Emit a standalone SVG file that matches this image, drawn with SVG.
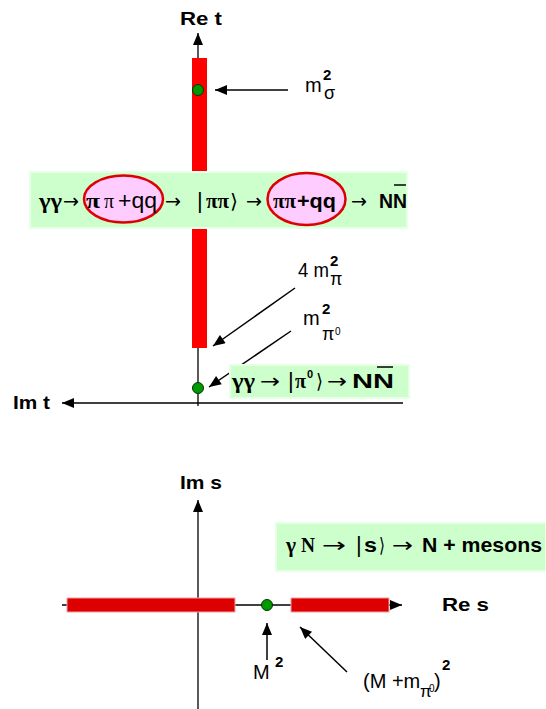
<svg xmlns="http://www.w3.org/2000/svg" width="546" height="709" viewBox="0 0 546 709">
<defs>
<marker id="ahb" viewBox="0 0 12 10" refX="12" refY="5" markerWidth="13" markerHeight="10" markerUnits="userSpaceOnUse" orient="auto"><path d="M0,0 L12,5 L0,10 z" fill="#000"/></marker>
</defs>
<style>
.ax{stroke:#000;stroke-width:1.3;fill:none}
.ar{stroke:#000;stroke-width:1.5;fill:none}
.lb{font-family:"Liberation Sans",Arial,sans-serif;font-weight:bold;font-size:19px;fill:#000}
.t{font-family:"Liberation Sans",Arial,sans-serif;font-size:20px;fill:#000}
.sup{font-family:"Liberation Sans",Arial,sans-serif;font-weight:bold;font-size:15px;fill:#000}
.sub{font-family:"Liberation Sans",Arial,sans-serif;font-weight:normal;font-size:18px;fill:#000}
.z{font-family:"Liberation Sans",Arial,sans-serif;font-weight:normal;font-size:10px;fill:#000}
.gs{font-family:"Liberation Serif","Times New Roman",serif;font-weight:bold;font-size:22px;fill:#000}
.gr{font-family:"Liberation Serif","Times New Roman",serif;font-size:20px;fill:#000}
.ss{font-family:"Liberation Sans",Arial,sans-serif;font-size:22px;fill:#000}
.sb{font-family:"Liberation Sans",Arial,sans-serif;font-weight:bold;font-size:21px;fill:#000}
.arw{font-family:"DejaVu Sans",sans-serif;font-size:20px;fill:#000}
.box{fill:#ccffcc;stroke:#e6ffe6;stroke-width:2}
.dot{fill:#009900;stroke:#003300;stroke-width:1}
.ell{fill:#ffccff;stroke:#dd0000;stroke-width:2.5}
.bar{stroke:#000;stroke-width:1.5}
</style>
<g id="connectors">
<line class="ax" x1="198" y1="406" x2="198" y2="33" marker-end="url(#ahb)"/>
<line class="ax" x1="403" y1="403" x2="62" y2="403" marker-end="url(#ahb)"/>
<line class="ar" x1="288" y1="90" x2="215" y2="90" marker-end="url(#ahb)"/>
<line class="ar" x1="295" y1="288" x2="213" y2="346" marker-end="url(#ahb)"/>
<line class="ar" x1="291" y1="331" x2="209" y2="387" marker-end="url(#ahb)"/>
<line class="ax" x1="198" y1="709" x2="198" y2="500" marker-end="url(#ahb)"/>
<line class="ax" x1="62" y1="605" x2="402" y2="605" marker-end="url(#ahb)"/>
<line class="ar" x1="267" y1="660" x2="267" y2="623" marker-end="url(#ahb)"/>
<line class="ar" x1="347" y1="672" x2="300" y2="627" marker-end="url(#ahb)"/>
</g>
<g id="cut-t"><rect x="192" y="58" width="15" height="290" fill="#ff0000"/></g>
<g id="cut-s-left"><rect x="67" y="598" width="168" height="14" fill="#dd0000" stroke="#f4a0a0" stroke-width="1"/></g>
<g id="cut-s-right"><rect x="291" y="598" width="98" height="14" fill="#dd0000" stroke="#f4a0a0" stroke-width="1"/></g>
<g id="label-re-t"><text class="lb" x="180" y="25" textLength="42" lengthAdjust="spacingAndGlyphs">Re  t</text></g>
<g id="label-im-t"><text class="lb" x="13" y="409" textLength="37" lengthAdjust="spacingAndGlyphs">Im  t</text></g>
<g id="label-im-s"><text class="lb" x="180" y="489" textLength="42" lengthAdjust="spacingAndGlyphs">Im s</text></g>
<g id="label-re-s"><text class="lb" x="442" y="611" textLength="47" lengthAdjust="spacingAndGlyphs">Re  s</text></g>
<g id="sigma-pole"><circle class="dot" cx="198" cy="90" r="5.5"/></g>
<g id="label-sigma"><text class="t" x="305" y="92">m<tspan class="sup" x="323" y="80">2</tspan><tspan class="sub" x="324" y="99">σ</tspan></text></g>
<g id="box-pipi">
<rect class="box" x="30" y="172" width="377" height="56"/>
<ellipse class="ell" cx="123.5" cy="199" rx="39.5" ry="23.5"/>
<ellipse class="ell" cx="306.5" cy="199" rx="39" ry="26"/>
<text class="gs" x="39" y="208" textLength="23" lengthAdjust="spacingAndGlyphs">γγ</text>
<text class="arw" x="63" y="208" textLength="16" lengthAdjust="spacingAndGlyphs">→</text>
<text class="gs" x="86" y="208" textLength="14" lengthAdjust="spacingAndGlyphs">π</text>
<text class="gr" x="104" y="208" textLength="10" lengthAdjust="spacingAndGlyphs">π</text>
<text class="ss" x="118" y="208" textLength="39" lengthAdjust="spacingAndGlyphs">+qq</text>
<text class="arw" x="165" y="208" textLength="16" lengthAdjust="spacingAndGlyphs">→</text>
<text class="ss" x="197" y="208">|</text>
<text class="gs" x="206" y="208" textLength="23" lengthAdjust="spacingAndGlyphs">ππ</text>
<text class="arw" x="230" y="208" textLength="8" lengthAdjust="spacingAndGlyphs">⟩</text>
<text class="arw" x="246" y="208" textLength="16" lengthAdjust="spacingAndGlyphs">→</text>
<text class="gs" x="273" y="208" textLength="23" lengthAdjust="spacingAndGlyphs">ππ</text>
<text class="sb" x="297" y="208" textLength="39" lengthAdjust="spacingAndGlyphs">+qq</text>
<text class="arw" x="351" y="208" textLength="16" lengthAdjust="spacingAndGlyphs">→</text>
<text class="sb" x="379" y="208" textLength="28" lengthAdjust="spacingAndGlyphs">NN</text>
<line class="bar" x1="394" y1="185" x2="406" y2="185"/>
</g>
<g id="label-4mpi"><text class="t" x="298" y="277" textLength="31" lengthAdjust="spacingAndGlyphs">4 m</text><text class="sup" x="330" y="266">2<tspan class="sub" x="330" y="285">π</tspan></text></g>
<g id="label-mpi0"><text class="t" x="303" y="325">m<tspan class="sup" x="322" y="314">2</tspan><tspan class="sub" x="322" y="340">π</tspan><tspan class="z" x="335" y="335">0</tspan></text></g>
<g id="pi0-pole"><circle class="dot" cx="198" cy="388" r="5.5"/></g>
<g id="box-pi0">
<rect class="box" x="230" y="365" width="179" height="33"/>
<text class="gs" x="232" y="388" font-size="21" textLength="23" lengthAdjust="spacingAndGlyphs">γγ</text>
<text class="arw" x="260" y="388" textLength="20" lengthAdjust="spacingAndGlyphs">→</text>
<text class="ss" x="288" y="388">|</text>
<text class="gs" x="295" y="388" textLength="11" lengthAdjust="spacingAndGlyphs">π</text>
<text class="sb" x="307" y="378" style="font-size:11px">0</text>
<text class="arw" x="316" y="388" textLength="7" lengthAdjust="spacingAndGlyphs">⟩</text>
<text class="arw" x="327" y="388" textLength="20" lengthAdjust="spacingAndGlyphs">→</text>
<text class="sb" x="352" y="388" style="font-size:20px" textLength="42" lengthAdjust="spacingAndGlyphs">NN</text>
<line class="bar" x1="377" y1="367" x2="393" y2="367"/>
</g>
<g id="box-s">
<rect class="box" x="276" y="523" width="270" height="48"/>
<text class="gs" x="286" y="552" style="font-size:21px" textLength="10" lengthAdjust="spacingAndGlyphs">γ</text>
<text class="gs" x="301" y="552" style="font-size:21px" textLength="14" lengthAdjust="spacingAndGlyphs">N</text>
<text class="arw" x="322" y="552" textLength="24" lengthAdjust="spacingAndGlyphs">→</text>
<text class="ss" x="356" y="552">|</text>
<text class="sb" x="364" y="552" textLength="13" lengthAdjust="spacingAndGlyphs">s</text>
<text class="arw" x="379" y="552" textLength="6" lengthAdjust="spacingAndGlyphs">⟩</text>
<text class="arw" x="392" y="552" textLength="21" lengthAdjust="spacingAndGlyphs">→</text>
<text class="sb" x="422" y="552" textLength="120" lengthAdjust="spacingAndGlyphs">N + mesons</text>
</g>
<g id="nucleon-pole"><circle class="dot" cx="267" cy="605" r="5.5"/></g>
<g id="label-M2"><text class="t" x="253" y="679">M<tspan class="sup" x="275" y="667">2</tspan></text></g>
<g id="label-threshold"><text class="t" x="363" y="688">(M +m<tspan class="sub" x="420" y="697" style="font-size:17px">π</tspan><tspan class="z" x="429" y="692">0</tspan><tspan x="434" y="688">)</tspan><tspan class="sup" x="442" y="670">2</tspan></text></g>
</svg>
